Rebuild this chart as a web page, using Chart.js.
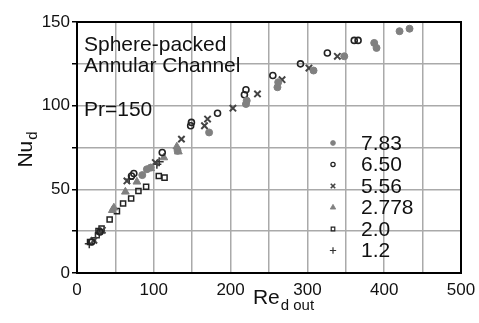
<!DOCTYPE html>
<html>
<head>
<meta charset="utf-8">
<script src="https://cdn.jsdelivr.net/npm/chart.js@4"></script>
<style>
  html, body { margin: 0; padding: 0; background: #fff; }
  #wrap { width: 479px; height: 323px; }
</style>
</head>
<body>
<div id="wrap"><canvas id="c" width="479" height="323"></canvas></div>
<script>
// series labels (value of the parameter shown in the legend)
const seriesLabels = ['7.83', '6.50', '5.56', '2.778', '2.0', '1.2'];

// Re_d out / Nu_d
const re783 = [85, 91, 96, 131, 172, 220, 221, 261, 262, 308, 348, 387, 390, 420, 433];
const nu783 = [58.5, 62, 63, 73, 84, 101, 103, 111, 114, 121, 129.5, 137.5, 134.5, 144.5, 146];

const re650 = [19, 30, 71, 74, 111, 148, 149, 183, 218, 220, 255, 291, 326, 361, 366];
const nu650 = [18.5, 24.5, 58, 59.5, 72, 88, 90, 95.5, 106.5, 109.5, 118, 125, 131.5, 139, 139];

const re556 = [22, 33, 65, 102, 136, 166, 170, 203, 235, 267, 302, 339];
const nu556 = [19.5, 25.5, 55, 66, 80, 88, 92, 98.5, 107, 115.5, 122.5, 129.5];

const re2778 = [46, 48, 63, 78, 96, 113, 130, 132];
const nu2778 = [37.5, 39, 48.5, 54.5, 62.5, 69, 75.5, 72.5];

const re20 = [17, 28, 32, 42.5, 52, 60, 70.5, 80, 90, 106.5, 114];
const nu20 = [18.5, 25, 26.5, 32, 37, 41.5, 44.5, 49, 51.5, 58, 57];

const re12 = [16, 24, 29, 68, 104, 107];
const nu12 = [17.5, 21, 24, 56, 65, 66.5];

const xTicks = [0, 100, 200, 300, 400, 500];
const yTicks = [0, 50, 100, 150];

const pts = (xs, ys) => xs.map((x, i) => ({ x: x, y: ys[i] }));

const FONT = 'Liberation Sans, Arial, sans-serif';

const styles = [
  { pointStyle: 'circle', radius: 3.5, bg: '#808080', border: '#808080', bw: 1 },
  { pointStyle: 'circle', radius: 3, bg: 'rgba(255,255,255,0)', border: '#222', bw: 1.6 },
  { pointStyle: 'crossRot', radius: 4.5, bg: '#444', border: '#444', bw: 2 },
  { pointStyle: 'triangle', radius: 4.5, bg: '#808080', border: '#808080', bw: 1 },
  { pointStyle: 'rect', radius: 3.6, bg: 'rgba(255,255,255,0)', border: '#222', bw: 1.5 },
  { pointStyle: 'cross', radius: 4.5, bg: '#333', border: '#333', bw: 1.5 }
];

const seriesData = [
  pts(re783, nu783), pts(re650, nu650), pts(re556, nu556),
  pts(re2778, nu2778), pts(re20, nu20), pts(re12, nu12)
];

const datasets = seriesLabels.map((lab, i) => ({
  label: lab,
  data: seriesData[i],
  pointStyle: styles[i].pointStyle,
  pointRadius: styles[i].radius,
  pointBackgroundColor: styles[i].bg,
  pointBorderColor: styles[i].border,
  pointBorderWidth: styles[i].bw,
  showLine: false
}));

// texts, legend, axis titles with subscripts, frame
const extras = {
  id: 'extras',
  afterDraw(chart) {
    const ctx = chart.ctx;
    const a = chart.chartArea;
    ctx.save();

    // frame
    ctx.strokeStyle = '#000';
    ctx.lineWidth = 2;
    ctx.strokeRect(a.left, a.top, a.right - a.left, a.bottom - a.top);

    ctx.fillStyle = '#111';
    ctx.textBaseline = 'middle';
    ctx.textAlign = 'left';
    ctx.font = '21px ' + FONT;
    ctx.fillText('Sphere-packed', 84, 45);
    ctx.fillText('Annular Channel', 84, 66);
    ctx.fillText('Pr=150', 84, 110);

    // legend
    const lx = 333, tx = 361;
    let ly = 143;
    chart.data.datasets.forEach((ds, i) => {
      const st = styles[i];
      ctx.fillStyle = st.bg;
      ctx.strokeStyle = st.border;
      ctx.lineWidth = st.bw * 0.8;
      Chart.helpers.drawPoint(ctx, {
        pointStyle: st.pointStyle, radius: st.radius * 0.7, rotation: 0, borderWidth: st.bw * 0.8
      }, lx, ly);
      ctx.fillStyle = '#111';
      ctx.font = '21px ' + FONT;
      ctx.textAlign = 'left';
      ctx.fillText(ds.label, tx, ly + 1);
      ly += 21.5;
    });

    // x title
    ctx.font = '21px ' + FONT;
    const w1 = ctx.measureText('Re').width;
    ctx.font = '15px ' + FONT;
    const w2 = ctx.measureText('d out').width;
    let x0 = 283 - (w1 + w2) / 2;
    ctx.font = '21px ' + FONT;
    ctx.fillText('Re', x0, 298);
    ctx.font = '15px ' + FONT;
    ctx.fillText('d out', x0 + w1 + 1, 306);

    // y title
    ctx.translate(26, 150);
    ctx.rotate(-Math.PI / 2);
    ctx.font = '21px ' + FONT;
    const n1 = ctx.measureText('Nu').width;
    ctx.font = '15px ' + FONT;
    const n2 = ctx.measureText('d').width;
    const y0 = -(n1 + n2) / 2;
    ctx.font = '21px ' + FONT;
    ctx.fillText('Nu', y0, 0);
    ctx.font = '15px ' + FONT;
    ctx.fillText('d', y0 + n1 + 1, 7);
    ctx.restore();
  }
};

new Chart(document.getElementById('c').getContext('2d'), {
  type: 'scatter',
  data: { datasets: datasets },
  options: {
    responsive: false,
    animation: false,
    layout: { padding: { left: 0, right: 18, top: 22, bottom: 0 } },
    plugins: { legend: { display: false }, tooltip: { enabled: false } },
    scales: {
      x: {
        type: 'linear', min: 0, max: 500,
        afterFit: s => { s.height = 50; s.paddingRight = 0; s.paddingLeft = 0; },
        afterBuildTicks: s => { s.ticks = [0, 50, 100, 150, 200, 250, 300, 350, 400, 450, 500].map(v => ({ value: v })); },
        ticks: {
          callback: v => xTicks.includes(v) ? String(v) : '',
          color: '#111', font: { family: FONT, size: 17 }, maxRotation: 0, autoSkip: false, padding: 7
        },
        grid: { color: '#aaa', lineWidth: 1.5, tickLength: 0 },
        border: { color: '#000', width: 2 }
      },
      y: {
        type: 'linear', min: 0, max: 150,
        afterFit: s => { s.width = 77; s.paddingTop = 0; s.paddingBottom = 0; },
        afterBuildTicks: s => { s.ticks = [0, 25, 50, 75, 100, 125, 150].map(v => ({ value: v })); },
        ticks: {
          callback: v => yTicks.includes(v) ? String(v) : '',
          color: '#111', font: { family: FONT, size: 17 }, autoSkip: false, padding: 2
        },
        grid: { color: '#aaa', lineWidth: 1.5, tickLength: 5, tickColor: '#000' },
        border: { color: '#000', width: 2 }
      }
    }
  },
  plugins: [extras]
});
</script>
</body>
</html>
